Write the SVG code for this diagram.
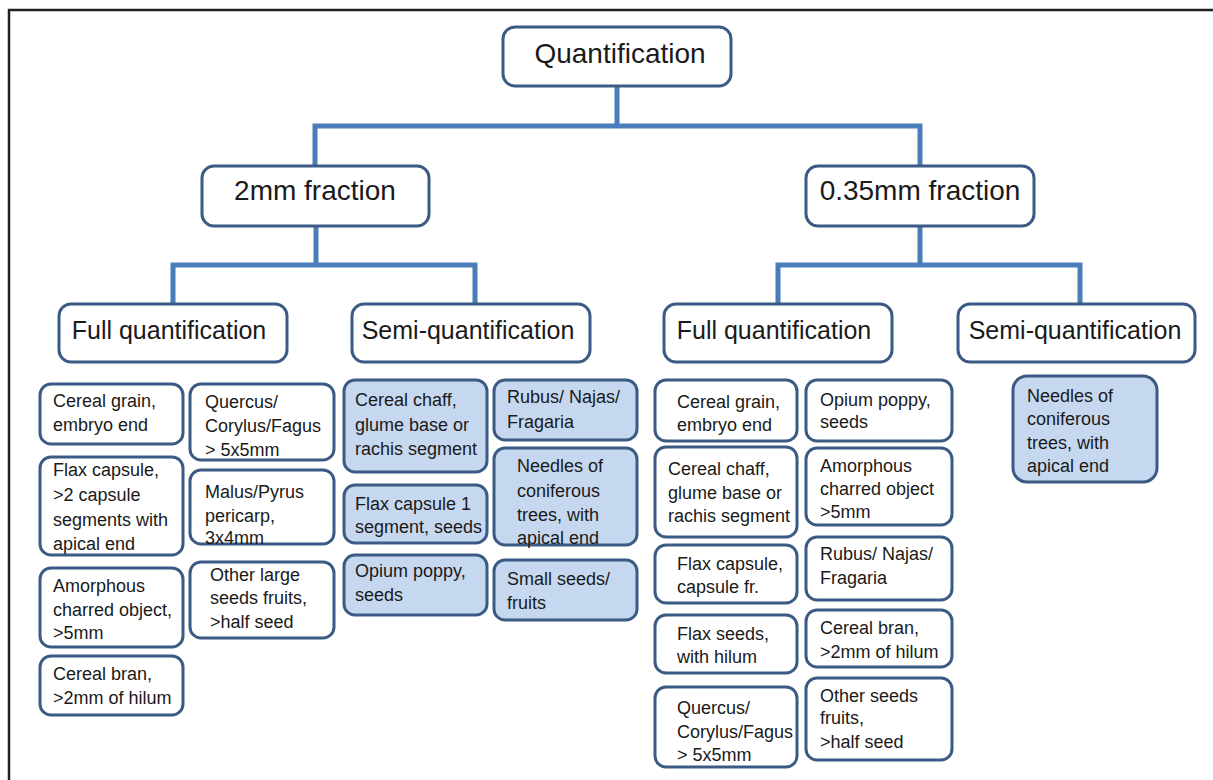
<svg xmlns="http://www.w3.org/2000/svg" width="1213" height="780" viewBox="0 0 1213 780">
<style>
.bx{fill:#fff;stroke:#3B5A84;stroke-width:3}
.fl{fill:#C6D8EF;stroke:#3B5A84;stroke-width:3}
.t{font-family:"Liberation Sans",Arial,sans-serif;fill:#1a1a1a}
.h1{font-size:28px}
.h2{font-size:25px}
.lf{font-size:18px}
.cn{fill:none;stroke:#4A7EBB;stroke-width:5}
</style>
<rect width="1213" height="780" fill="#fff"/>
<path d="M9 780 V10 H1213" fill="none" stroke="#222" stroke-width="2.5"/>
<g id="connectors">
<path class="cn" d="M617 87 V126 M315 166 V126 H920 V166"/>
<path class="cn" d="M316 226 V265 M173 304 V265 H475 V304"/>
<path class="cn" d="M920 226 V265 M778 304 V265 H1080 V304"/>
</g>
<g id="root"><rect class="bx" x="503" y="27" width="228" height="59" rx="12"/><text class="t h1" x="620" y="63" text-anchor="middle">Quantification</text></g>
<g id="f2mm"><rect class="bx" x="202" y="166" width="227" height="60" rx="12"/><text class="t h1" x="315" y="200" text-anchor="middle">2mm fraction</text></g>
<g id="f035"><rect class="bx" x="806" y="166" width="228" height="60" rx="12"/><text class="t h1" x="920" y="200" text-anchor="middle">0.35mm fraction</text></g>
<g id="full1"><rect class="bx" x="59" y="304" width="228" height="58" rx="12"/><text class="t h2" x="169" y="339" text-anchor="middle">Full quantification</text></g>
<g id="semi1"><rect class="bx" x="352" y="304" width="238" height="58" rx="12"/><text class="t h2" x="468" y="339" text-anchor="middle">Semi-quantification</text></g>
<g id="full2"><rect class="bx" x="664" y="304" width="228" height="58" rx="12"/><text class="t h2" x="774" y="339" text-anchor="middle">Full quantification</text></g>
<g id="semi2"><rect class="bx" x="958" y="304" width="237" height="58" rx="12"/><text class="t h2" x="1075" y="339" text-anchor="middle">Semi-quantification</text></g>

<g id="a1"><rect class="bx" x="40" y="384" width="143" height="60" rx="11"/><text class="t lf" x="53" y="407">Cereal grain,<tspan x="53" y="431">embryo end</tspan></text></g>
<g id="a2"><rect class="bx" x="40" y="457" width="143" height="98" rx="11"/><text class="t lf" x="53" y="476">Flax capsule,<tspan x="53" y="501">&gt;2 capsule</tspan><tspan x="53" y="526">segments with</tspan><tspan x="53" y="550">apical end</tspan></text></g>
<g id="a3"><rect class="bx" x="40" y="568" width="143" height="79" rx="11"/><text class="t lf" x="53" y="592">Amorphous<tspan x="53" y="616">charred object,</tspan><tspan x="53" y="639">&gt;5mm</tspan></text></g>
<g id="a4"><rect class="bx" x="40" y="656" width="143" height="59" rx="11"/><text class="t lf" x="53" y="680">Cereal bran,<tspan x="53" y="704">&gt;2mm of hilum</tspan></text></g>
<g id="b1"><rect class="bx" x="190" y="384" width="144" height="76" rx="11"/><text class="t lf" x="205" y="408">Quercus/<tspan x="205" y="432">Corylus/Fagus</tspan><tspan x="205" y="456">&gt; 5x5mm</tspan></text></g>
<g id="b2"><rect class="bx" x="190" y="470" width="144" height="74" rx="11"/><text class="t lf" x="205" y="498">Malus/Pyrus<tspan x="205" y="522">pericarp,</tspan><tspan x="205" y="544">3x4mm</tspan></text></g>
<g id="b3"><rect class="bx" x="190" y="562" width="144" height="76" rx="11"/><text class="t lf" x="210" y="581">Other large<tspan x="210" y="604">seeds fruits,</tspan><tspan x="210" y="628">&gt;half seed</tspan></text></g>

<g id="c1"><rect class="fl" x="344" y="380" width="143" height="92" rx="11"/><text class="t lf" x="355" y="406">Cereal chaff,<tspan x="355" y="431">glume base or</tspan><tspan x="355" y="455">rachis segment</tspan></text></g>
<g id="c2"><rect class="fl" x="344" y="485" width="143" height="58" rx="11"/><text class="t lf" x="355" y="510">Flax capsule 1<tspan x="355" y="533">segment, seeds</tspan></text></g>
<g id="c3"><rect class="fl" x="344" y="555" width="143" height="60" rx="11"/><text class="t lf" x="355" y="577">Opium poppy,<tspan x="355" y="601">seeds</tspan></text></g>
<g id="d1"><rect class="fl" x="494" y="380" width="143" height="60" rx="11"/><text class="t lf" x="507" y="403">Rubus/ Najas/<tspan x="507" y="428">Fragaria</tspan></text></g>
<g id="d2"><rect class="fl" x="494" y="448" width="143" height="97" rx="11"/><text class="t lf" x="517" y="472">Needles of<tspan x="517" y="497">coniferous</tspan><tspan x="517" y="521">trees, with</tspan><tspan x="517" y="544">apical end</tspan></text></g>
<g id="d3"><rect class="fl" x="494" y="560" width="143" height="60" rx="11"/><text class="t lf" x="507" y="585">Small seeds/<tspan x="507" y="609">fruits</tspan></text></g>

<g id="e1"><rect class="bx" x="655" y="380" width="142" height="61" rx="11"/><text class="t lf" x="677" y="408">Cereal grain,<tspan x="677" y="431">embryo end</tspan></text></g>
<g id="e2"><rect class="bx" x="655" y="447" width="142" height="90" rx="11"/><text class="t lf" x="668" y="475">Cereal chaff,<tspan x="668" y="499">glume base or</tspan><tspan x="668" y="522">rachis segment</tspan></text></g>
<g id="e3"><rect class="bx" x="655" y="545" width="142" height="58" rx="11"/><text class="t lf" x="677" y="570">Flax capsule,<tspan x="677" y="593">capsule fr.</tspan></text></g>
<g id="e4"><rect class="bx" x="655" y="615" width="142" height="58" rx="11"/><text class="t lf" x="677" y="640">Flax seeds,<tspan x="677" y="663">with hilum</tspan></text></g>
<g id="e5"><rect class="bx" x="655" y="687" width="142" height="80" rx="11"/><text class="t lf" x="677" y="714">Quercus/<tspan x="677" y="738">Corylus/Fagus</tspan><tspan x="677" y="761">&gt; 5x5mm</tspan></text></g>
<g id="g1"><rect class="bx" x="806" y="380" width="146" height="61" rx="11"/><text class="t lf" x="820" y="406">Opium poppy,<tspan x="820" y="428">seeds</tspan></text></g>
<g id="g2"><rect class="bx" x="806" y="448" width="146" height="77" rx="11"/><text class="t lf" x="820" y="472">Amorphous<tspan x="820" y="495">charred object</tspan><tspan x="820" y="518">&gt;5mm</tspan></text></g>
<g id="g3"><rect class="bx" x="806" y="537" width="146" height="63" rx="11"/><text class="t lf" x="820" y="560">Rubus/ Najas/<tspan x="820" y="584">Fragaria</tspan></text></g>
<g id="g4"><rect class="bx" x="806" y="610" width="146" height="57" rx="11"/><text class="t lf" x="820" y="634">Cereal bran,<tspan x="820" y="658">&gt;2mm of hilum</tspan></text></g>
<g id="g5"><rect class="bx" x="806" y="678" width="146" height="82" rx="11"/><text class="t lf" x="820" y="702">Other seeds<tspan x="820" y="724">fruits,</tspan><tspan x="820" y="748">&gt;half seed</tspan></text></g>

<g id="h1"><rect class="fl" x="1013" y="376" width="144" height="106" rx="14"/><text class="t lf" x="1027" y="402">Needles of<tspan x="1027" y="425">coniferous</tspan><tspan x="1027" y="449">trees, with</tspan><tspan x="1027" y="472">apical end</tspan></text></g>
</svg>
